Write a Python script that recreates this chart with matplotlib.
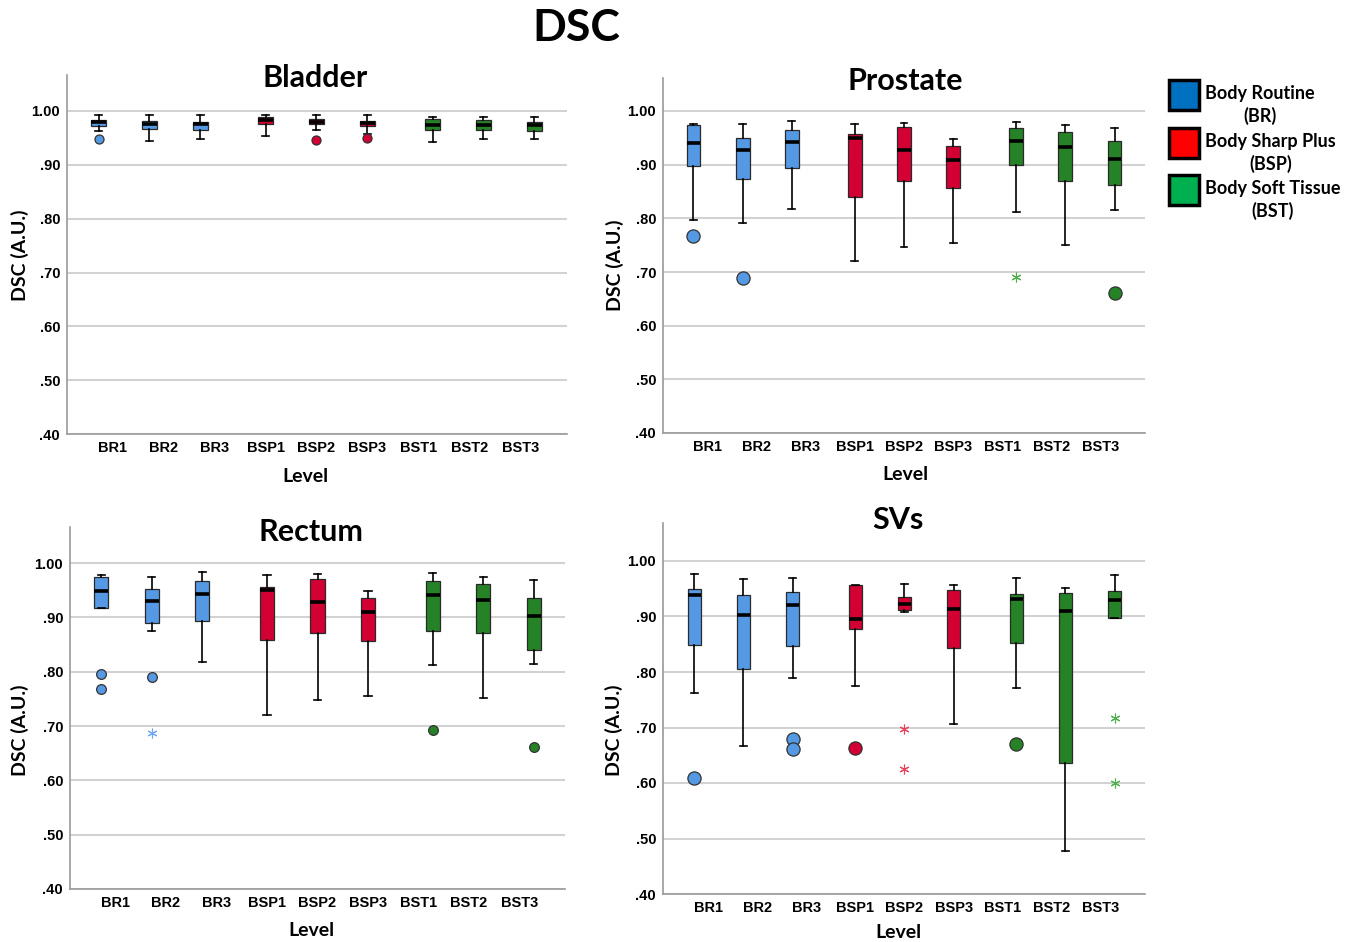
import matplotlib
matplotlib.use("Agg")
import matplotlib.pyplot as plt
from matplotlib.patches import Rectangle
from matplotlib.ticker import FuncFormatter

# ---------------- data ----------------
categories = ["BR1", "BR2", "BR3", "BSP1", "BSP2", "BSP3", "BST1", "BST2", "BST3"]
groups = ["BR", "BSP", "BST"]
legend_labels = ["Body Routine\n(BR)", "Body Sharp Plus\n(BSP)", "Body Soft Tissue\n(BST)"]
yticks = [0.40, 0.50, 0.60, 0.70, 0.80, 0.90, 1.00]

bladder_lo  = [0.963, 0.945, 0.948, 0.954, 0.964, 0.957, 0.942, 0.948, 0.948]
bladder_q1  = [0.973, 0.967, 0.964, 0.975, 0.975, 0.972, 0.964, 0.964, 0.962]
bladder_med = [0.979, 0.976, 0.976, 0.983, 0.980, 0.978, 0.974, 0.974, 0.974]
bladder_q3  = [0.983, 0.981, 0.980, 0.989, 0.985, 0.981, 0.986, 0.983, 0.979]
bladder_hi  = [0.992, 0.992, 0.992, 0.993, 0.992, 0.993, 0.989, 0.989, 0.988]
bladder_out = [[0.948], [], [], [], [0.946], [0.950], [], [], []]
bladder_ext = [[], [], [], [], [], [], [], [], []]

prostate_lo  = [0.796, 0.791, 0.817, 0.720, 0.747, 0.754, 0.812, 0.751, 0.815]
prostate_q1  = [0.898, 0.873, 0.893, 0.839, 0.870, 0.856, 0.900, 0.870, 0.863]
prostate_med = [0.940, 0.927, 0.942, 0.950, 0.927, 0.909, 0.945, 0.932, 0.911]
prostate_q3  = [0.973, 0.950, 0.965, 0.957, 0.970, 0.935, 0.968, 0.961, 0.944]
prostate_hi  = [0.976, 0.975, 0.982, 0.976, 0.978, 0.947, 0.980, 0.973, 0.968]
prostate_out = [[0.768], [0.688], [], [], [], [], [], [], [0.661]]
prostate_ext = [[], [], [], [], [], [], [0.691], [], []]

rectum_lo  = [0.917, 0.875, 0.818, 0.721, 0.747, 0.755, 0.812, 0.752, 0.815]
rectum_q1  = [0.917, 0.890, 0.893, 0.858, 0.871, 0.857, 0.875, 0.871, 0.840]
rectum_med = [0.949, 0.930, 0.943, 0.950, 0.928, 0.910, 0.942, 0.932, 0.902]
rectum_q3  = [0.974, 0.953, 0.966, 0.955, 0.970, 0.935, 0.967, 0.962, 0.935]
rectum_hi  = [0.977, 0.975, 0.983, 0.977, 0.980, 0.948, 0.981, 0.974, 0.969]
rectum_out = [[0.796, 0.769], [0.791], [], [], [], [], [0.692], [], [0.662]]
rectum_ext = [[], [0.688], [], [], [], [], [], [], []]

svs_lo  = [0.763, 0.667, 0.790, 0.774, 0.908, 0.706, 0.771, 0.477, 0.897]
svs_q1  = [0.848, 0.805, 0.846, 0.878, 0.912, 0.844, 0.852, 0.636, 0.897]
svs_med = [0.939, 0.903, 0.921, 0.896, 0.923, 0.914, 0.931, 0.910, 0.929]
svs_q3  = [0.950, 0.938, 0.944, 0.957, 0.936, 0.947, 0.940, 0.942, 0.946]
svs_hi  = [0.977, 0.967, 0.969, 0.957, 0.959, 0.957, 0.969, 0.951, 0.974]
svs_out = [[0.609], [], [0.679, 0.661], [0.663], [], [], [0.671], [], []]
svs_ext = [[], [], [], [], [0.697, 0.626], [], [], [], [0.717, 0.600]]

# ---------------- style ----------------
W, H = 1353, 942
box_colors = ["#5598E4", "#D30033", "#268226"]
ext_colors = ["#6FA8F0", "#E8405F", "#4FAE4F"]
legend_colors = ["#0070C0", "#FF0000", "#00B050"]
TITLE_FONT = ["Lato", "DejaVu Sans"]
TICK_FONT = ["Liberation Sans", "DejaVu Sans"]

fig = plt.figure(figsize=(W / 100, H / 100), dpi=100)


def rect(left, top, right, bottom):
    return [left / W, 1 - bottom / H, (right - left) / W, (bottom - top) / H]


def fmt(v, _):
    s = f"{v:.2f}"
    return s[1:] if s.startswith("0") else s


panels = [
    dict(name="Bladder", px=(67, 75, 567, 434), y100=111,
         data=(bladder_lo, bladder_q1, bladder_med, bladder_q3, bladder_hi, bladder_out, bladder_ext),
         title_xy=(315, 78), ylab_xy=(20, 255), xlab_xy=(305, 477), ms=6.5, xlim=(-0.9, 8.92)),
    dict(name="Prostate", px=(663, 78, 1145, 433), y100=111,
         data=(prostate_lo, prostate_q1, prostate_med, prostate_q3, prostate_hi, prostate_out, prostate_ext),
         title_xy=(905, 81), ylab_xy=(615, 265), xlab_xy=(905, 474), ms=9.5, xlim=(-0.9, 8.9)),
    dict(name="Rectum", px=(70, 527, 565, 889), y100=563,
         data=(rectum_lo, rectum_q1, rectum_med, rectum_q3, rectum_hi, rectum_out, rectum_ext),
         title_xy=(311, 532), ylab_xy=(20, 730), xlab_xy=(311, 931), ms=7, xlim=(-0.9, 8.9)),
    dict(name="SVs", px=(663, 523, 1145, 894), y100=561,
         data=(svs_lo, svs_q1, svs_med, svs_q3, svs_hi, svs_out, svs_ext),
         title_xy=(898, 520), ylab_xy=(614, 730), xlab_xy=(898, 933), ms=9.5, xlim=(-0.92, 8.9)),
]

offsets = [-0.28, 0.0, 0.28]

for p in panels:
    l, t, r, b = p["px"]
    ax = fig.add_axes(rect(l, t, r, b))
    per = (b - p["y100"]) / 0.6  # pixels per unit
    ytop = 1.0 + (p["y100"] - t) / per
    ax.set_ylim(0.40, ytop)
    ax.set_xlim(*p["xlim"])

    lo, q1, med, q3, hi, out, ext = p["data"]
    for i, cat in enumerate(categories):
        g = i // 3
        pos = i + offsets[g]
        stats = [dict(whislo=lo[i], q1=q1[i], med=med[i], q3=q3[i], whishi=hi[i], fliers=[])]
        ax.bxp(stats, positions=[pos], widths=0.28, capwidths=0.14, patch_artist=True,
               showfliers=False, manage_ticks=False,
               boxprops=dict(facecolor=box_colors[g], edgecolor="#2a2a2a", linewidth=0.9),
               medianprops=dict(color="black", linewidth=2.6, solid_capstyle="butt"),
               whiskerprops=dict(color="black", linewidth=1.2),
               capprops=dict(color="black", linewidth=1.2), zorder=3)
        if out[i]:
            ax.plot([pos] * len(out[i]), out[i], linestyle="none", marker="o", ms=p["ms"],
                    markerfacecolor=box_colors[g], markeredgecolor="#333333",
                    markeredgewidth=0.9, zorder=4)
        if ext[i]:
            ax.plot([pos] * len(ext[i]), ext[i], linestyle="none", marker=(6, 2, 0), ms=7,
                    color=ext_colors[g], markeredgewidth=0.8, zorder=4)

    ax.set_yticks(yticks)
    ax.yaxis.set_major_formatter(FuncFormatter(fmt))
    ax.set_xticks(range(len(categories)))
    ax.set_xticklabels(categories)
    ax.tick_params(length=0, pad=5)
    for lab in ax.get_xticklabels() + ax.get_yticklabels():
        lab.set_fontfamily(TICK_FONT)
        lab.set_fontweight("bold")
        lab.set_fontsize(10.5)
    ax.set_axisbelow(True)
    ax.yaxis.grid(True, color="#d2d2d2", linewidth=1.5)
    for s in ["top", "right"]:
        ax.spines[s].set_visible(False)
    for s in ["left", "bottom"]:
        ax.spines[s].set_color("#9a9a9a")
        ax.spines[s].set_linewidth(1.2)

    tx, ty = p["title_xy"]
    fig.text(tx / W, 1 - ty / H, p["name"], ha="center", va="center",
             fontsize=22, fontweight="bold", family=TITLE_FONT)
    yx, yy = p["ylab_xy"]
    fig.text(yx / W, 1 - yy / H, "DSC (A.U.)", ha="center", va="center", rotation=90,
             fontsize=14, fontweight="bold", family=TITLE_FONT)
    xx, xy = p["xlab_xy"]
    fig.text(xx / W, 1 - xy / H, "Level", ha="center", va="center",
             fontsize=14, fontweight="bold", family=TITLE_FONT)

# main title
fig.text(576 / W, 1 - 28 / H, "DSC", ha="center", va="center",
         fontsize=32, fontweight="bold", family=TITLE_FONT)

# legend
leg_tops = [80, 128, 175]
for k, (lab, col) in enumerate(zip(legend_labels, legend_colors)):
    top = leg_tops[k]
    fig.add_artist(Rectangle((1169 / W, 1 - (top + 30) / H), 30 / W, 30 / H,
                             transform=fig.transFigure, facecolor=col,
                             edgecolor="black", linewidth=2.5))
    fig.text(1205 / W, 1 - (top + 25) / H, lab, ha="left", va="center",
             multialignment="center", fontsize=13, fontweight="bold",
             family=TITLE_FONT, linespacing=1.3)

fig.savefig("out.png", dpi=100)
